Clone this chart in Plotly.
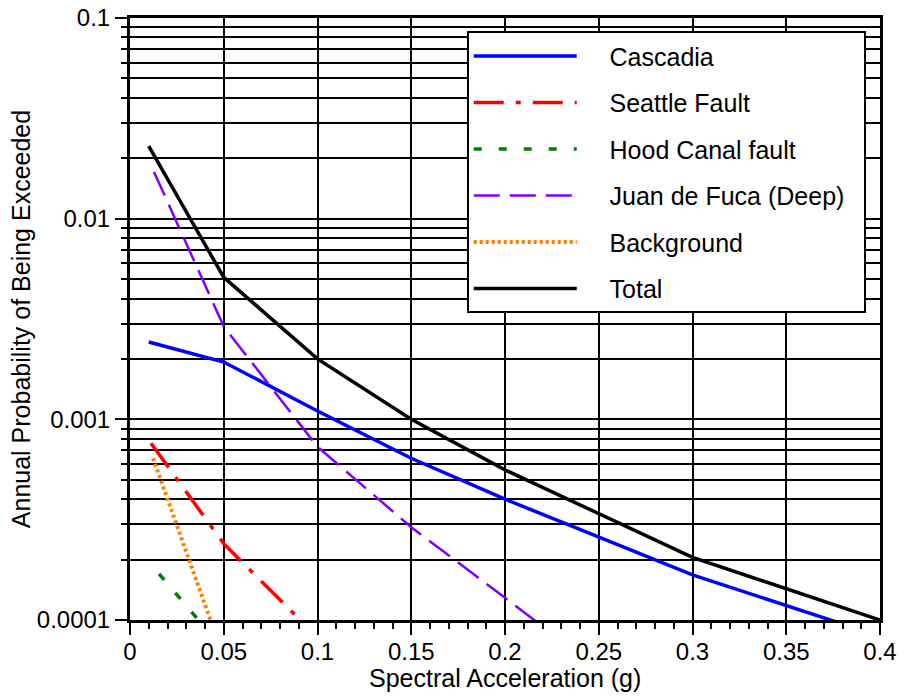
import plotly.graph_objects as go

# ---- data ----
x_cascadia = [0.01, 0.05, 0.1, 0.15, 0.2, 0.25, 0.3, 0.4]
y_cascadia = [0.00243, 0.00193, 0.0011, 0.00064, 0.0004, 0.00026, 0.000168, 0.000083]

x_seattle = [0.0112, 0.05, 0.1]
y_seattle = [0.00076, 0.00024, 0.000082]

x_hood = [0.0155, 0.05]
y_hood = [0.00017, 0.000071]

x_jdf = [0.0128, 0.05, 0.1, 0.15, 0.2, 0.25]
y_jdf = [0.0171, 0.0029, 0.00073, 0.00029, 0.000129, 0.000057]

x_background = [0.0123, 0.05]
y_background = [0.00064, 0.000065]

x_total = [0.01, 0.05, 0.1, 0.15, 0.2, 0.25, 0.3, 0.4]
y_total = [0.023, 0.0051, 0.002, 0.001, 0.00056, 0.00034, 0.000205, 0.0001]

y_tickvals = [0.0001, 0.001, 0.01, 0.1]
y_ticktext = ["0.0001", "0.001", "0.01", "0.1"]
y_minorvals = [m * d for d in (0.0001, 0.001, 0.01) for m in range(2, 10)]

x_title = "Spectral Acceleration (g)"
y_title = "Annual Probability of Being Exceeded"

FONT = "Liberation Sans, Arial, Helvetica, sans-serif"
PAD = "\u00a0" * 4

series = [
    ("Cascadia", x_cascadia, y_cascadia, "#0000FF", "solid", 3.5),
    ("Seattle Fault", x_seattle, y_seattle, "#FF0000", "30px,12px,5px,12px", 3.5),
    ("Hood Canal fault", x_hood, y_hood, "#008000", "8px,17px", 3.5),
    ("Juan de Fuca (Deep)", x_jdf, y_jdf, "#8000FF", "26px,10px", 2.5),
    ("Background", x_background, y_background, "#FF8000", "3px,3px", 4),
    ("Total", x_total, y_total, "#000000", "solid", 3.5),
]

fig = go.Figure()
for i, (name, xs, ys, color, dash, w) in enumerate(series):
    fig.add_trace(go.Scatter(
        x=xs, y=ys, mode="lines", name=PAD + name + "\u00a0\u00a0", legendgroup=f"g{i}",
        line=dict(color=color, width=w, dash=dash),
    ))

fig.update_layout(
    width=906, height=696,
    margin=dict(l=130, r=26, t=18, b=76),
    paper_bgcolor="white", plot_bgcolor="white",
    font=dict(family=FONT, size=24, color="black"),
    showlegend=True,
    legend=dict(
        x=0.449, y=0.978, xanchor="left", yanchor="top",
        bgcolor="white", bordercolor="black", borderwidth=2,
        font=dict(size=25), itemwidth=103, tracegroupgap=11,
    ),
    annotations=[dict(
        text=x_title, xref="paper", yref="paper", x=0.5, y=-0.0965,
        xanchor="center", yanchor="middle", showarrow=False,
        font=dict(size=25, family=FONT, color="black"),
    )],
)

fig.update_xaxes(
    range=[0, 0.4], tick0=0, dtick=0.05, automargin=False,
    showgrid=True, gridcolor="black", gridwidth=2,
    ticks="outside", ticklen=12, tickwidth=2, tickcolor="black",
    ticklabelstandoff=-4,
    showline=True, linecolor="black", linewidth=3, mirror=True,
    zeroline=False,
    minor=dict(dtick=0.01, tick0=0, ticks="outside", ticklen=6, tickwidth=2,
               tickcolor="black", showgrid=False),
)

fig.update_yaxes(
    type="log", range=[-4, -1], automargin=False,
    tickmode="array", tickvals=y_tickvals, ticktext=y_ticktext,
    showgrid=True, gridcolor="black", gridwidth=2,
    ticks="outside", ticklen=12, tickwidth=2, tickcolor="black",
    showline=True, linecolor="black", linewidth=3, mirror=True,
    minor=dict(tickmode="array", tickvals=y_minorvals, ticks="outside", ticklen=6,
               tickwidth=2, tickcolor="black", showgrid=True, gridcolor="black",
               gridwidth=2),
    title=dict(text=y_title, standoff=0, font=dict(size=25)),
)

fig.write_html("out.html")
